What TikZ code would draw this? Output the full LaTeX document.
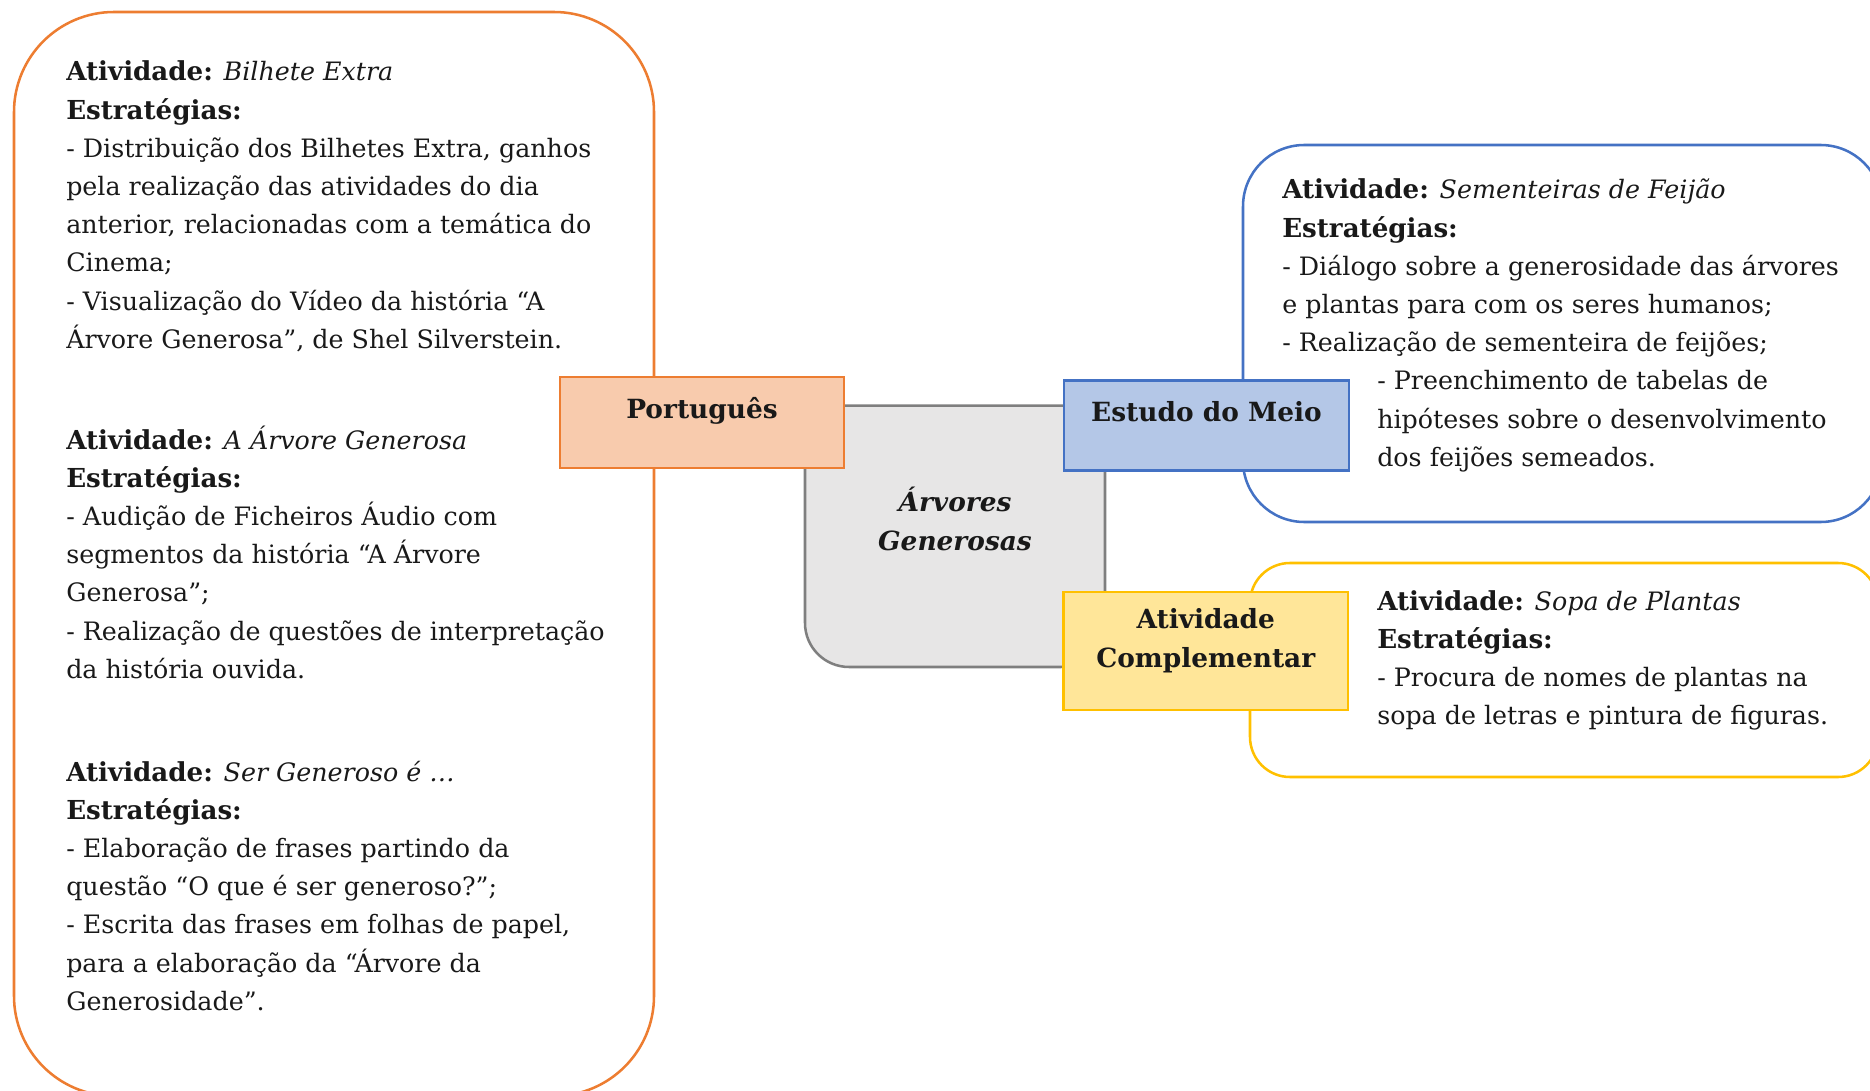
\documentclass[tikz,border=0pt]{standalone}
\usepackage{fontspec}
\setmainfont{DejaVu Serif}
\definecolor{orangeL}{HTML}{ED7D31}
\definecolor{orangeF}{HTML}{F8CBAD}
\definecolor{blueL}{HTML}{4472C4}
\definecolor{blueF}{HTML}{B4C7E7}
\definecolor{goldL}{HTML}{FFC000}
\definecolor{goldF}{HTML}{FFE699}
\definecolor{grayL}{HTML}{7F7F7F}
\definecolor{grayF}{HTML}{E7E6E6}
\tikzset{
  frame/.style={line width=1.9pt},
  subjbox/.style={rectangle, line width=1.9pt, inner sep=0pt},
  txt/.style={inner sep=0pt, anchor=base west, font=\fontsize{19}{28.65}\selectfont, text=black!90},
  lbl/.style={inner sep=0pt, anchor=base, font=\fontsize{19.8}{28.65}\selectfont\bfseries, text=black!90},
}
\newcommand{\blocktext}[1]{\parbox[t]{520pt}{\raggedright #1}}
\newcommand{\bb}[1]{{\fontsize{19.6}{28.65}\selectfont\bfseries #1}}
\begin{document}
\begin{tikzpicture}[x=0.75pt,y=-0.75pt]
\useasboundingbox (0,0) rectangle (1870,1091);
% large frames
\draw[frame, orangeL, rounded corners=75pt] (14,12) rectangle (654,1096);
\draw[frame, blueL, rounded corners=46pt] (1243,145) rectangle (1882,522);
\draw[frame, goldL, rounded corners=30pt] (1250,563) rectangle (1878,777);
% central box
\node[subjbox, draw=grayL, fill=grayF, rounded corners=33pt, minimum width=225pt, minimum height=196.1pt] (center) at (955,536.25) {};
% subject boxes
\node[subjbox, draw=orangeL, fill=orangeF, minimum width=213pt, minimum height=68.25pt] (port) at (702,422.5) {};
\node[subjbox, draw=blueL, fill=blueF, minimum width=213.75pt, minimum height=67.5pt] (meio) at (1206.5,425.5) {};
\node[subjbox, draw=goldL, fill=goldF, minimum width=213.4pt, minimum height=88.5pt] (comp) at (1205.75,651) {};
% labels (base anchor of a multi-line node is the last line's baseline)
\node[lbl] (portlbl) at (702,418) {Português};
\node[lbl] (meiolbl) at (1206.5,421) {Estudo do Meio};
\node[lbl, align=center] (complbl) at (1205.75,667) {Atividade\\Complementar};
\node[lbl, font=\fontsize{19.8}{28.65}\selectfont\bfseries\itshape, align=center] (centerlbl) at (955,550) {Árvores\\Generosas};
% text blocks
\node[txt] (p1) at (66,81) {\blocktext{%
\bb{Atividade:} \textit{Bilhete Extra}\\
\bb{Estratégias:}\\
- Distribuição dos Bilhetes Extra, ganhos\\
pela realização das atividades do dia\\
anterior, relacionadas com a temática do\\
Cinema;\\
- Visualização do Vídeo da história “A\\
Árvore Generosa”, de Shel Silverstein.}};
\node[txt] (p2) at (66,449) {\blocktext{%
\bb{Atividade:} \textit{A Árvore Generosa}\\
\bb{Estratégias:}\\
- Audição de Ficheiros Áudio com\\
segmentos da história “A Árvore\\
Generosa”;\\
- Realização de questões de interpretação\\
da história ouvida.}};
\node[txt] (p3) at (66,781) {\blocktext{%
\bb{Atividade:} \textit{Ser Generoso é …}\\
\bb{Estratégias:}\\
- Elaboração de frases partindo da\\
questão “O que é ser generoso?”;\\
- Escrita das frases em folhas de papel,\\
para a elaboração da “Árvore da\\
Generosidade”.}};
\node[txt] (m1) at (1282,199) {\blocktext{%
\bb{Atividade:} \textit{Sementeiras de Feijão}\\
\bb{Estratégias:}\\
- Diálogo sobre a generosidade das árvores\\
e plantas para com os seres humanos;\\
- Realização de sementeira de feijões;\\
\hspace*{71.25pt}- Preenchimento de tabelas de\\
\hspace*{71.25pt}hipóteses sobre o desenvolvimento\\
\hspace*{71.25pt}dos feijões semeados.}};
\node[txt] (c1) at (1377,610) {\blocktext{%
\bb{Atividade:} \textit{Sopa de Plantas}\\
\bb{Estratégias:}\\
- Procura de nomes de plantas na\\
sopa de letras e pintura de figuras.}};
\end{tikzpicture}
\end{document}
